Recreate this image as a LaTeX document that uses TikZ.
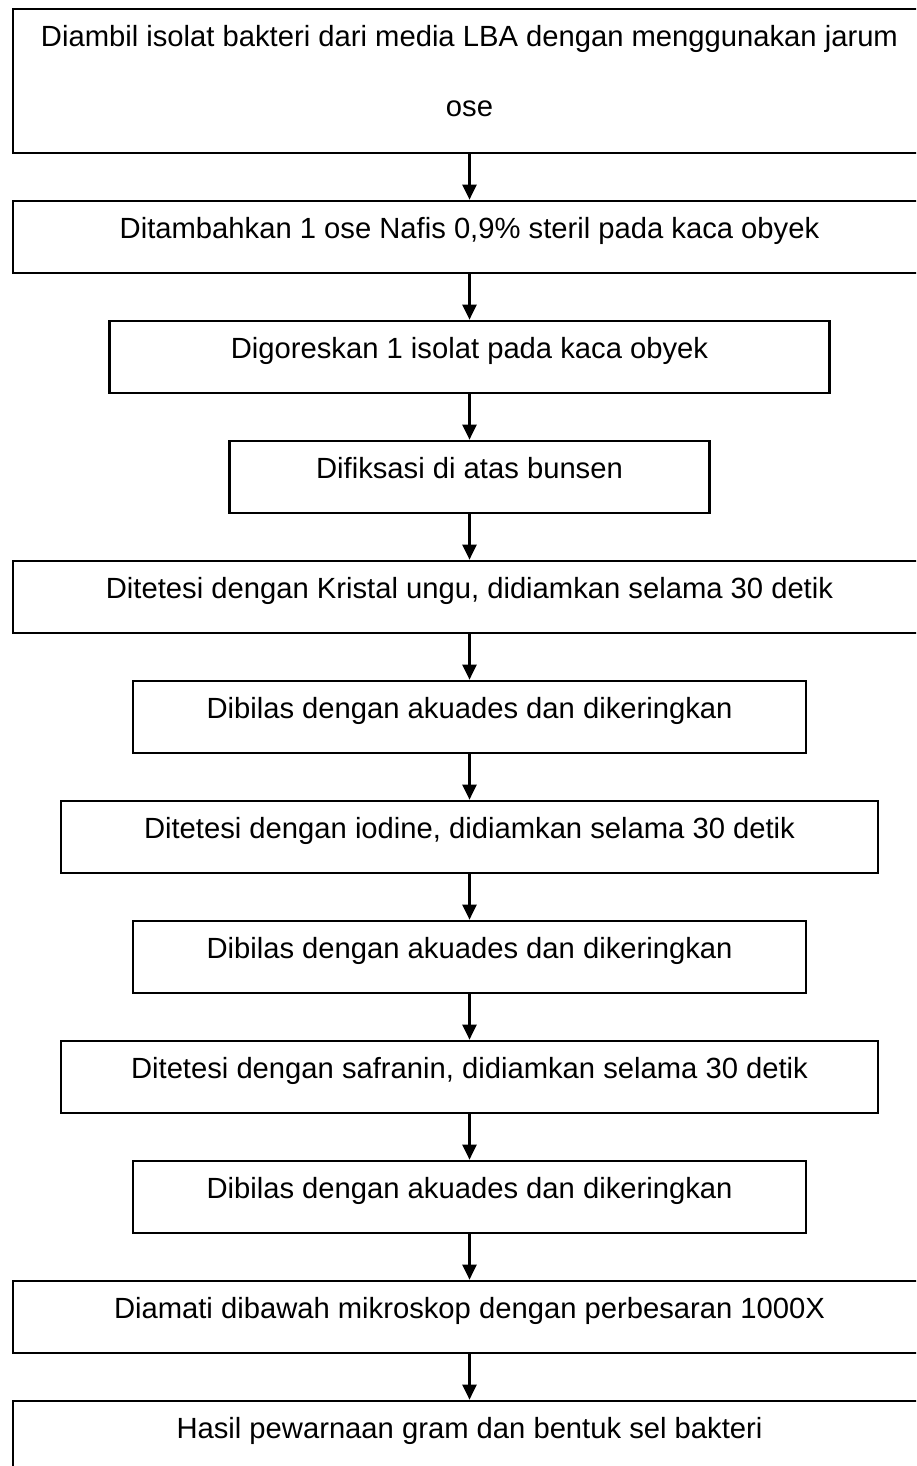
\documentclass[tikz,border=0pt]{standalone}
\usepackage{fontspec}
\setmainfont{Liberation Sans}
\usetikzlibrary{arrows.meta}
\begin{document}
\begin{tikzpicture}[x=1pt,y=-1pt,
  stepbox/.style={draw=black,line width=2.1pt,rectangle,inner xsep=0pt,inner ysep=0pt,
    minimum height=72pt,text height=37.6pt,text depth=34.4pt,
    font=\fontsize{29.2}{35}\selectfont},
  plain/.style={inner sep=0pt,font=\fontsize{29.2}{35}\selectfont},
  flow/.style={draw=black,line width=2.3pt,-{Triangle[length=15pt,width=14pt]}}]
\useasboundingbox (0,0) rectangle (916,1466);
\clip (0,0) rectangle (916,1466);
\node[draw=black,line width=2.1pt,rectangle,inner sep=0pt,minimum width=913pt,minimum height=144pt] (b1) at (469.5,81) {};
\node[plain,anchor=base] (t1a) at (469.5,46.7) {Diambil isolat bakteri dari media LBA dengan menggunakan jarum};
\node[plain,anchor=base] (t1b) at (469.5,116.5) {ose};
\node[stepbox,minimum width=913pt] (b2) at (469.5,236.7) {Ditambahkan 1 ose Nafis 0,9\% steril pada kaca obyek};
\node[stepbox,minimum width=720pt] (b3) at (469.5,356.7) {Digoreskan 1 isolat pada kaca obyek};
\node[stepbox,minimum width=480pt] (b4) at (469.5,476.7) {Difiksasi di atas bunsen};
\node[stepbox,minimum width=913pt] (b5) at (469.5,596.7) {Ditetesi dengan Kristal ungu, didiamkan selama 30 detik};
\node[stepbox,minimum width=673pt] (b6) at (469.5,716.7) {Dibilas dengan akuades dan dikeringkan};
\node[stepbox,minimum width=817pt] (b7) at (469.5,836.7) {Ditetesi dengan iodine, didiamkan selama 30 detik};
\node[stepbox,minimum width=673pt] (b8) at (469.5,956.7) {Dibilas dengan akuades dan dikeringkan};
\node[stepbox,minimum width=817pt] (b9) at (469.5,1076.7) {Ditetesi dengan safranin, didiamkan selama 30 detik};
\node[stepbox,minimum width=673pt] (b10) at (469.5,1196.7) {Dibilas dengan akuades dan dikeringkan};
\node[stepbox,minimum width=913pt] (b11) at (469.5,1316.7) {Diamati dibawah mikroskop dengan perbesaran 1000X};
\node[stepbox,minimum width=913pt] (b12) at (469.5,1436.7) {Hasil pewarnaan gram dan bentuk sel bakteri};
\foreach \a/\b in {b1/b2,b2/b3,b3/b4,b4/b5,b5/b6,b6/b7,b7/b8,b8/b9,b9/b10,b10/b11,b11/b12}
  \draw[flow] (\a.south) -- (\b.north);
\end{tikzpicture}
\end{document}
